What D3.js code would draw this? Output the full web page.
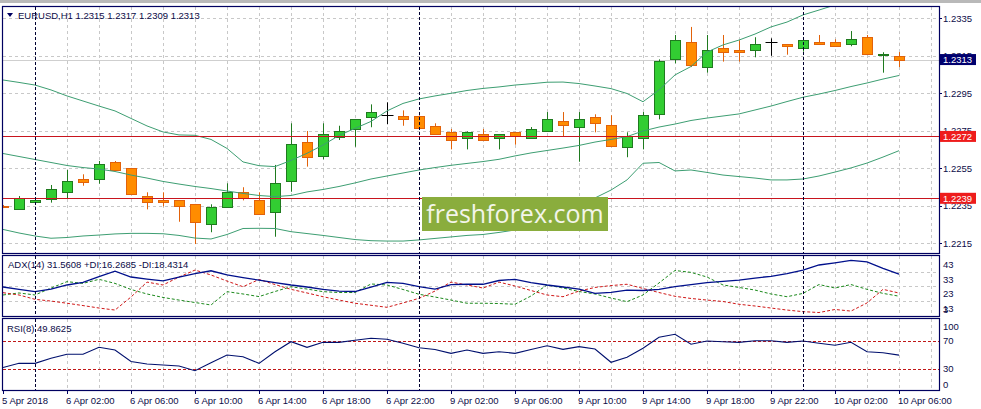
<!DOCTYPE html>
<html><head><meta charset="utf-8">
<script src="https://cdn.jsdelivr.net/npm/d3@7"></script>
<style>
body{margin:0;background:#fff;}
svg{display:block;font-family:"Liberation Sans",Arial,sans-serif;}
</style>
</head><body>
<svg id="c" width="981" height="409"></svg>
<script>
// ---------- DATA ----------
const times = ["5 Apr 22:00","5 Apr 23:00",
"6 Apr 00:00","6 Apr 01:00","6 Apr 02:00","6 Apr 03:00","6 Apr 04:00","6 Apr 05:00","6 Apr 06:00","6 Apr 07:00",
"6 Apr 08:00","6 Apr 09:00","6 Apr 10:00","6 Apr 11:00","6 Apr 12:00","6 Apr 13:00","6 Apr 14:00","6 Apr 15:00",
"6 Apr 16:00","6 Apr 17:00","6 Apr 18:00","6 Apr 19:00","6 Apr 20:00","6 Apr 21:00","6 Apr 22:00","6 Apr 23:00",
"9 Apr 00:00","9 Apr 01:00","9 Apr 02:00","9 Apr 03:00","9 Apr 04:00","9 Apr 05:00","9 Apr 06:00","9 Apr 07:00",
"9 Apr 08:00","9 Apr 09:00","9 Apr 10:00","9 Apr 11:00","9 Apr 12:00","9 Apr 13:00","9 Apr 14:00","9 Apr 15:00",
"9 Apr 16:00","9 Apr 17:00","9 Apr 18:00","9 Apr 19:00","9 Apr 20:00","9 Apr 21:00","9 Apr 22:00","9 Apr 23:00",
"10 Apr 00:00","10 Apr 01:00","10 Apr 02:00","10 Apr 03:00","10 Apr 04:00","10 Apr 05:00","10 Apr 06:00"];

const open  = [1.22349,1.22331,1.22369,1.22388,1.22425,1.22493,1.22491,1.22582,1.2255,1.22401,
1.22379,1.22379,1.22358,1.22251,1.22345,1.22425,1.22379,1.22319,1.22482,1.22689,
1.22617,1.22719,1.22758,1.22822,1.22834,1.22831,1.22831,1.22777,1.22742,1.2271,
1.22731,1.2271,1.22742,1.2271,1.22747,1.22801,1.22769,1.22822,1.22779,1.22662,
1.2271,1.22838,1.23131,1.23222,1.23089,1.2319,1.23179,1.23179,1.23222,1.23211,
1.2319,1.23222,1.23222,1.23211,1.2325,1.23153,1.2315];
const high  = [1.22354,1.22402,1.22386,1.22461,1.22541,1.22518,1.22589,1.22589,1.22552,1.22422,
1.22422,1.22381,1.2236,1.22358,1.2247,1.22449,1.22422,1.22568,1.2279,1.22749,
1.2279,1.22777,1.22813,1.22891,1.22902,1.22859,1.22832,1.2279,1.2276,1.22747,
1.2276,1.22733,1.22744,1.2277,1.2285,1.2285,1.2285,1.22838,1.22833,1.22742,
1.2285,1.23131,1.23261,1.23304,1.23261,1.23261,1.23233,1.23249,1.23243,1.23213,
1.23234,1.23261,1.23238,1.23282,1.23261,1.23169,1.2317];
const low   = [1.22338,1.2233,1.22368,1.22367,1.2239,1.22457,1.22468,1.22538,1.2241,1.22331,
1.22347,1.22265,1.22146,1.22209,1.22344,1.22379,1.22301,1.22185,1.22425,1.22559,
1.22598,1.22701,1.22665,1.22769,1.22785,1.22777,1.2276,1.2273,1.22651,1.22651,
1.22698,1.22651,1.22676,1.22709,1.22746,1.22721,1.22585,1.22742,1.22666,1.22609,
1.22651,1.22811,1.2311,1.2309,1.2306,1.23119,1.23119,1.23142,1.2315,1.23156,
1.23172,1.2321,1.232,1.23201,1.23157,1.2306,1.2309];
const close = [1.22344,1.2239,1.22379,1.22438,1.22481,1.22479,1.22571,1.22539,1.22411,1.22369,
1.22369,1.22347,1.22262,1.22342,1.22422,1.2239,1.22308,1.2247,1.22678,1.22609,
1.22731,1.22747,1.22811,1.22849,1.22834,1.22811,1.22767,1.22731,1.22699,1.22741,
1.22699,1.22731,1.22721,1.22758,1.22811,1.22779,1.22811,1.2279,1.22667,1.22721,
1.22833,1.23121,1.23233,1.23099,1.23179,1.23169,1.23169,1.23211,1.23222,1.23201,
1.23233,1.23211,1.23201,1.2324,1.23158,1.23161,1.2313];

const bbUpper = [1.23021,1.23008,1.22994,1.22968,1.22936,1.22909,1.22882,1.22856,1.22816,1.22776,
1.22744,1.22728,1.22726,1.22704,1.22656,1.22584,1.22564,1.22559,1.22592,1.2263,
1.22674,1.22725,1.22763,1.228,1.22856,1.22896,1.2292,1.22936,1.2295,1.22965,
1.22976,1.22984,1.22994,1.23001,1.23009,1.2301,1.23002,1.22989,1.22975,1.22949,
1.22905,1.22968,1.23048,1.23093,1.2317,1.23208,1.23234,1.23266,1.23304,1.2333,
1.23368,1.23394,1.23421,1.23442,1.23464,1.2348,1.23496];
const bbMiddle = [1.22629,1.22613,1.22597,1.22581,1.22565,1.22554,1.22546,1.22533,1.22514,1.22498,
1.2248,1.22466,1.22453,1.22442,1.22429,1.22416,1.22405,1.22399,1.22405,1.22424,
1.22437,1.22453,1.22472,1.22493,1.22509,1.22525,1.22541,1.22554,1.22566,1.22576,
1.22586,1.22598,1.22616,1.22632,1.22645,1.22658,1.22672,1.2269,1.22704,1.22719,
1.22749,1.2277,1.22786,1.22805,1.22818,1.22829,1.2284,1.22861,1.22882,1.22906,
1.22929,1.22946,1.22965,1.22986,1.23005,1.23026,1.23045];
const bbLower = [1.22224,1.22205,1.22189,1.22177,1.22181,1.22189,1.22194,1.222,1.22203,1.22203,
1.22201,1.22192,1.22178,1.22173,1.22197,1.22229,1.2223,1.22229,1.22212,1.22202,
1.22192,1.22181,1.2217,1.22164,1.22162,1.22162,1.22168,1.22176,1.22184,1.22192,
1.22197,1.22208,1.22221,1.22237,1.22253,1.22274,1.22328,1.22392,1.22434,1.22488,
1.22577,1.22581,1.22536,1.22541,1.22528,1.22514,1.22506,1.22498,1.22488,1.22488,
1.22493,1.22509,1.2253,1.22552,1.22578,1.2261,1.22644];

const adx = [22.6,20.9,19.4,21.2,24.0,25.8,29.8,33.6,29.5,28.1,
26.9,29.5,31.9,33.8,30.9,29.1,27.4,25.7,24.0,22.6,
20.9,19.8,19.5,22.6,25.8,25.1,22.8,21.2,24.3,24.5,
24.5,27.1,27.9,25.7,24.0,22.6,21.2,18.2,18.9,20.5,
20.2,20.9,22.9,24.3,25.6,26.5,27.4,28.8,30.0,31.9,
34.3,37.8,39.3,41.0,40.0,35.5,31.56];
const plusDI = [17.1,18.5,17.1,21.9,26.3,25.1,27.9,25.1,20.9,17.8,
15.4,13.6,11.9,10.2,19.4,17.8,16.0,19.5,22.8,21.2,
19.4,18.8,18.8,24.7,24.0,20.9,17.6,15.7,13.6,11.4,
11.4,11.2,10.7,16.4,24.0,21.9,19.5,17.8,15.0,12.5,
17.1,25.4,34.0,32.7,29.5,24.0,22.3,20.5,17.8,15.9,
18.2,24.3,21.9,24.3,21.0,18.2,16.27];
const minusDI = [18.7,17.1,14.1,12.9,11.4,9.8,8.1,6.7,15.7,26.0,
24.0,29.5,34.3,30.9,26.7,22.8,27.8,24.3,21.0,18.5,
15.9,13.6,11.4,10.0,8.6,11.6,14.8,19.8,26.0,24.0,
21.9,26.0,23.3,20.2,17.1,15.9,19.8,22.3,23.6,24.5,
21.6,18.8,16.2,14.7,13.6,12.6,10.7,9.5,8.1,6.7,
5.6,5.0,7.1,6.0,11.6,21.0,18.43];
const rsi = [32.1,38.1,38.1,45.3,51.0,51.0,61.0,57.1,40.7,37.1,
35.7,34.3,27.6,39.0,50.0,47.6,38.1,54.7,69.0,61.0,
68.1,68.1,71.0,73.9,72.4,66.7,60.4,57.9,52.4,57.1,
52.4,54.7,52.4,57.9,63.3,58.1,61.9,58.6,39.6,46.7,
59.6,75.3,79.6,65.3,70.0,69.0,68.1,70.4,70.4,68.1,
70.0,66.7,63.9,68.1,54.7,53.3,49.86];

const priceTicks = [1.2335,1.2315,1.2295,1.2275,1.2255,1.2235,1.2215];
const supportLevels = [1.2272, 1.2239];
const lastPrice = 1.2313;
const adxTicks = [43,33,23,13,3];
const adxGrid = [33,23,13];
const rsiTicks = [100,70,30,0];
const rsiLevels = [70,30];
const separators = ["6 Apr 00:00","9 Apr 00:00","10 Apr 00:00"];
const xTickTimes = ["5 Apr 22:00","6 Apr 02:00","6 Apr 06:00","6 Apr 10:00","6 Apr 14:00","6 Apr 18:00","6 Apr 22:00",
"9 Apr 02:00","9 Apr 06:00","9 Apr 10:00","9 Apr 14:00","9 Apr 18:00","9 Apr 22:00","10 Apr 02:00","10 Apr 06:00"];
const xTickLabels = ["5 Apr 2018","6 Apr 02:00","6 Apr 06:00","6 Apr 10:00","6 Apr 14:00","6 Apr 18:00","6 Apr 22:00",
"9 Apr 02:00","9 Apr 06:00","9 Apr 10:00","9 Apr 14:00","9 Apr 18:00","9 Apr 22:00","10 Apr 02:00","10 Apr 06:00"];
const titleMain = "EURUSD,H1  1.2315 1.2317 1.2309 1.2313";
const titleAdx = "ADX(14) 31.5608 +DI:16.2685 -DI:18.4314";
const titleRsi = "RSI(8) 49.8625";
const watermark = "freshforex.com";

// ---------- LAYOUT ----------
const svg = d3.select("#c");
const L = 3, R = 939;
const panels = [
  {id:"main", top:7,   bottom:253},
  {id:"adx",  top:256, bottom:316},
  {id:"rsi",  top:319, bottom:390}
];
const TXT = "#0c0c48", NAVY = "#000060", GRID = "#c8c8c8";
const FS = 9.5;

const x = d3.scalePoint().domain(times).range([3, 899]);
const step = x.step();
const y = d3.scaleLinear().domain([1.2215, 1.2335]).range([243.3, 18.3]);
const yAdx = d3.scaleLinear().domain([2.6, 44]).range([316, 256]);
const yRsi = d3.scaleLinear().domain([0, 100]).range([390, 320]);

svg.append("rect").attr("width",981).attr("height",409).attr("fill","#fff");
svg.append("rect").attr("x",0).attr("y",0).attr("width",981).attr("height",3).attr("fill","#b9b9b9");

const defs = svg.append("defs");
panels.forEach(p=>{
  defs.append("clipPath").attr("id","clip-"+p.id).append("rect")
    .attr("x",L).attr("y",p.top).attr("width",R-L).attr("height",p.bottom-p.top);
});

// vertical grid + separators in every panel
const x0 = x(times[0]);
const sepX = separators.map(s=>x(s));
panels.forEach(p=>{
  const g = svg.append("g").attr("clip-path","url(#clip-"+p.id+")");
  for(let k=2; x0+k*step < R; k+=2){
    const xx = x0 + k*step;
    if(sepX.includes(xx)) continue;
    g.append("line").attr("x1",xx+0.5).attr("x2",xx+0.5).attr("y1",p.top).attr("y2",p.bottom)
      .attr("stroke",GRID).attr("stroke-dasharray","3,3");
  }
});

// horizontal grids
const gMain = svg.append("g").attr("clip-path","url(#clip-main)");
priceTicks.forEach(v=>{
  gMain.append("line").attr("x1",L).attr("x2",R).attr("y1",Math.round(y(v))+0.5).attr("y2",Math.round(y(v))+0.5)
    .attr("stroke",GRID).attr("stroke-dasharray","3,3");
});
const gAdx = svg.append("g").attr("clip-path","url(#clip-adx)");
adxGrid.forEach(v=>{
  gAdx.append("line").attr("x1",L).attr("x2",R).attr("y1",Math.round(yAdx(v))+0.5).attr("y2",Math.round(yAdx(v))+0.5)
    .attr("stroke",GRID).attr("stroke-dasharray","3,3");
});
const gRsi = svg.append("g").attr("clip-path","url(#clip-rsi)");

// current price line
gMain.append("line").attr("x1",L).attr("x2",R).attr("y1",Math.round(y(lastPrice))+0.5).attr("y2",Math.round(y(lastPrice))+0.5)
  .attr("stroke","#cfcfcf");

// separators
panels.forEach(p=>{
  sepX.forEach(xx=>{
    svg.append("line").attr("x1",xx+0.5).attr("x2",xx+0.5).attr("y1",p.top).attr("y2",p.bottom)
      .attr("stroke","#000030").attr("stroke-dasharray","3,2");
  });
});

// candles
const idx = d3.range(times.length);
idx.forEach(i=>{
  const cx = x(times[i]) + 0.5;
  const o=open[i], c=close[i], h=high[i], l=low[i];
  if(o===c){
    gMain.append("line").attr("x1",cx).attr("x2",cx).attr("y1",y(h)).attr("y2",y(l)).attr("stroke","#000");
    gMain.append("line").attr("x1",cx-6).attr("x2",cx+6).attr("y1",Math.round(y(o))+0.5).attr("y2",Math.round(y(o))+0.5).attr("stroke","#000");
    return;
  }
  const bull = c>o;
  const fill = bull ? "#32cd32" : "#ff8c00";
  const edge = bull ? "#1f7a1f" : "#e2620a";
  gMain.append("line").attr("x1",cx).attr("x2",cx).attr("y1",y(h)).attr("y2",y(l)).attr("stroke",edge);
  const top = Math.round(y(Math.max(o,c))), bot = Math.round(y(Math.min(o,c)));
  gMain.append("rect").attr("x",cx-5).attr("y",top+0.5).attr("width",10).attr("height",Math.max(1,bot-top))
    .attr("fill",fill).attr("stroke",edge);
});

// bollinger bands
const lineMain = arr => d3.line().x((d,i)=>x(times[i])).y(d=>y(d))(arr);
[bbUpper,bbMiddle,bbLower].forEach(arr=>{
  gMain.append("path").attr("d",lineMain(arr)).attr("fill","none").attr("stroke","#3d9e72").attr("stroke-width",1);
});

// support / resistance lines
supportLevels.forEach(v=>{
  gMain.append("line").attr("x1",L).attr("x2",R).attr("y1",Math.round(y(v))+0.5).attr("y2",Math.round(y(v))+0.5)
    .attr("stroke","#c8141e").attr("stroke-width",1.2);
});

// watermark
const wm = svg.append("g");
wm.append("rect").attr("x",422).attr("y",197).attr("width",186).attr("height",34).attr("fill","#8aad3d");
wm.append("text").attr("x",515).attr("y",223).attr("text-anchor","middle")
  .attr("font-family","'Open Sans',sans-serif").attr("font-size",25).attr("fill","#f3f5ea").text(watermark);

// ADX lines
const lineAdx = arr => d3.line().x((d,i)=>x(times[i])).y(d=>yAdx(d))(arr);
gAdx.append("path").attr("d",lineAdx(plusDI)).attr("fill","none").attr("stroke","#1d8a1d").attr("stroke-dasharray","3,2");
gAdx.append("path").attr("d",lineAdx(minusDI)).attr("fill","none").attr("stroke","#d01818").attr("stroke-dasharray","3,2");
gAdx.append("path").attr("d",lineAdx(adx)).attr("fill","none").attr("stroke","#00108c").attr("stroke-width",1.3);

// RSI
rsiLevels.forEach(v=>{
  gRsi.append("line").attr("x1",L).attr("x2",R).attr("y1",Math.round(yRsi(v))+0.5).attr("y2",Math.round(yRsi(v))+0.5)
    .attr("stroke","#c01818").attr("stroke-dasharray","3,2");
});
gRsi.append("path").attr("d",d3.line().x((d,i)=>x(times[i])).y(d=>yRsi(d))(rsi))
  .attr("fill","none").attr("stroke","#00106e").attr("stroke-width",1.1);

// panel frames
panels.forEach(p=>{
  svg.append("rect").attr("x",L-0.5).attr("y",p.top-0.5).attr("width",R-L+1).attr("height",p.bottom-p.top+1)
    .attr("fill","none").attr("stroke",NAVY).attr("stroke-width",1.2);
});

// right axis labels - main
const axText = (yy, t, g) => (g||svg).append("text").attr("x",943).attr("y",yy).attr("dy","0.35em")
  .attr("font-size",FS).attr("fill",TXT).text(t);
priceTicks.forEach(v=>{
  const yy = y(v);
  svg.append("line").attr("x1",R).attr("x2",R+3).attr("y1",Math.round(yy)+0.5).attr("y2",Math.round(yy)+0.5).attr("stroke",NAVY);
  axText(yy, v.toFixed(4));
});
// price boxes
const box = (v, bg) => {
  const yy = y(v);
  svg.append("rect").attr("x",940).attr("y",yy-5.5).attr("width",36).attr("height",11).attr("fill",bg);
  svg.append("text").attr("x",943).attr("y",yy).attr("dy","0.35em").attr("font-size",FS).attr("fill","#fff").text(v.toFixed(4));
};
supportLevels.forEach(v=>box(v,"#ee1c1c"));
box(lastPrice,"#00006e");

// ADX axis labels (text top just below level, clamped in panel)
adxTicks.forEach(v=>{
  const yy = Math.max(262, Math.min(310, yAdx(v)+7.5));
  axText(yy, String(v));
});
// RSI axis labels
rsiTicks.forEach(v=>{
  const yy = Math.max(326.5, Math.min(384.5, yRsi(v)));
  axText(yy, String(v));
});

// x axis labels
xTickTimes.forEach((t,i)=>{
  const xx = x(t);
  svg.append("line").attr("x1",xx+0.5).attr("x2",xx+0.5).attr("y1",390).attr("y2",394).attr("stroke",NAVY);
  svg.append("text").attr("x",xx-1).attr("y",401).attr("dy","0.35em").attr("font-size",FS).attr("fill",TXT).text(xTickLabels[i]);
});

// titles
svg.append("path").attr("d","M7,13 L13,13 L10,17 Z").attr("fill",NAVY);
svg.append("text").attr("x",18).attr("y",15.5).attr("dy","0.35em").attr("font-size",FS).attr("fill",TXT).text(titleMain);
svg.append("text").attr("x",8).attr("y",264.5).attr("dy","0.35em").attr("font-size",FS).attr("fill",TXT).text(titleAdx);
svg.append("text").attr("x",7).attr("y",329).attr("dy","0.35em").attr("font-size",FS).attr("fill",TXT).text(titleRsi);
</script>
</body></html>
